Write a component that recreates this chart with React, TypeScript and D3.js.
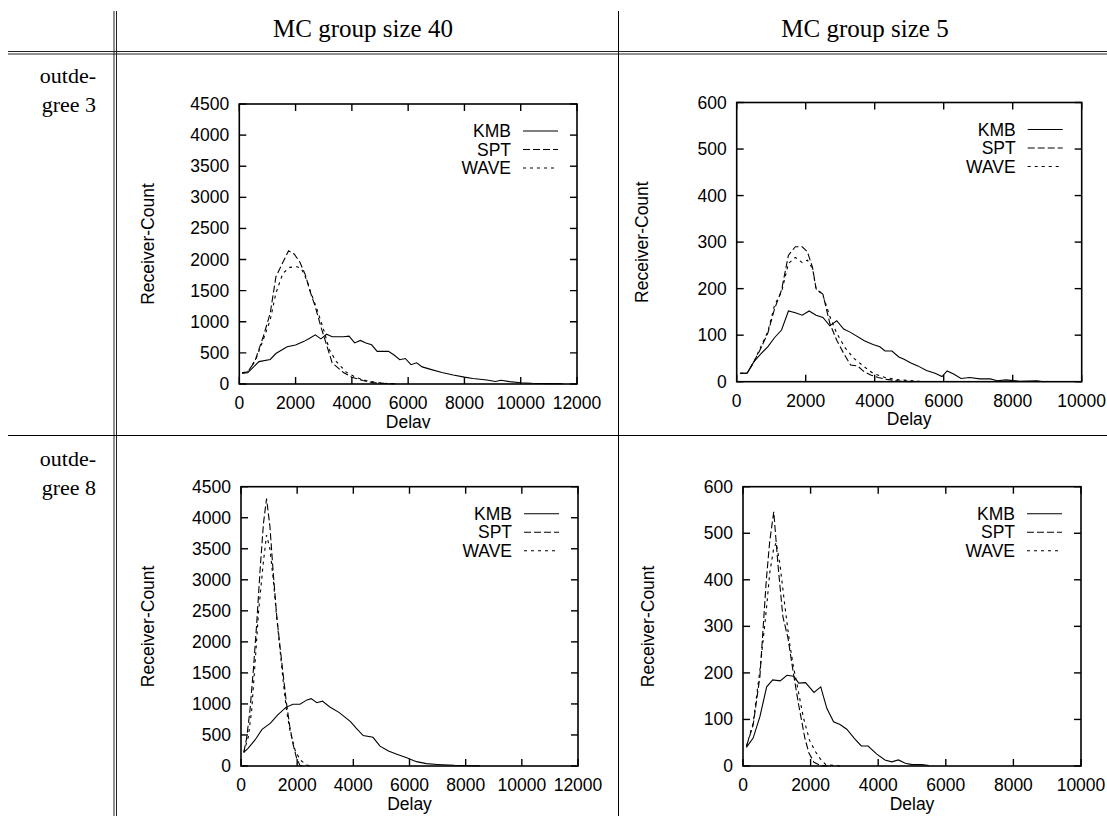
import React from 'react';
import * as d3 from 'd3';

type Pt = [number, number];

const columnHeaders = ['MC group size 40', 'MC group size 5'];
const rowLabels = [['outde-', 'gree 3'], ['outde-', 'gree 8']];
const seriesNames = ['KMB', 'SPT', 'WAVE'];
const xTicksG40 = [0, 2000, 4000, 6000, 8000, 10000, 12000];
const yTicksG40 = [0, 500, 1000, 1500, 2000, 2500, 3000, 3500, 4000, 4500];
const xTicksG5 = [0, 2000, 4000, 6000, 8000, 10000];
const yTicksG5 = [0, 100, 200, 300, 400, 500, 600];
const xLabel = 'Delay';
const yLabel = 'Receiver-Count';

// group size 40, outdegree 3
const kmbG40D3: Pt[] = [[100,175],[300,180],[700,360],[1100,395],[1300,490],[1700,600],[2000,627],[2300,685],[2500,735],[2700,790],[2900,725],[3100,800],[3300,760],[3700,760],[3900,770],[4100,660],[4300,700],[4500,660],[4700,630],[4900,525],[5300,525],[5500,465],[5700,390],[5900,410],[6100,310],[6300,340],[6500,275],[6800,235],[7200,185],[7600,145],[8000,110],[8300,88],[8800,64],[9100,40],[9300,60],[9600,38],[10000,20],[10400,11],[11000,6],[11500,4]];
const sptG40D3: Pt[] = [[100,175],[300,195],[550,360],[850,760],[1100,1140],[1300,1720],[1500,1910],[1750,2140],[1950,2090],[2150,1960],[2350,1750],[2500,1510],[2700,1240],[2900,920],[3100,630],[3300,340],[3700,185],[4000,110],[4400,55],[4750,22],[5150,10],[5500,4]];
const waveG40D3: Pt[] = [[100,175],[350,225],[600,410],[850,710],[1100,1030],[1300,1460],[1550,1780],[1800,1875],[2050,1885],[2200,1860],[2400,1670],[2550,1460],[2750,1215],[3000,870],[3200,550],[3450,360],[3800,190],[4150,105],[4500,55],[4900,22],[5250,8],[5600,3]];

// group size 5, outdegree 3
const kmbG5D3: Pt[] = [[100,18],[300,18],[500,43],[700,60],[900,75],[1100,95],[1300,111],[1500,152],[1700,148],[1900,143],[2100,152],[2300,143],[2500,138],[2700,120],[2900,131],[3100,113],[3300,106],[3700,88],[3950,80],[4150,75],[4300,66],[4500,66],[4700,53],[4850,48],[5050,40],[5250,34],[5500,24],[5750,18],[5950,11],[6100,23],[6300,16],[6500,7],[6750,9],[7050,6],[7350,6],[7550,2],[7800,4],[8200,1],[8700,2],[8900,0]];
const sptG5D3: Pt[] = [[100,18],[300,18],[500,43],[700,72],[900,104],[1100,157],[1300,197],[1500,272],[1700,290],[1900,290],[2050,279],[2200,245],[2300,200],[2500,188],[2700,125],[2900,89],[3100,61],[3300,36],[3500,34],[3700,21],[3900,14],[4100,9],[4350,5],[4750,1],[5200,0]];
const waveG5D3: Pt[] = [[100,18],[300,18],[500,43],[700,75],[900,107],[1100,165],[1300,193],[1500,254],[1700,267],[1900,256],[2050,261],[2200,243],[2300,200],[2500,186],[2700,140],[2900,104],[3150,72],[3400,50],[3700,32],[3950,18],[4300,9],[4700,4],[5100,2],[5300,1]];

// group size 40, outdegree 8
const kmbG40D8: Pt[] = [[100,220],[250,285],[500,420],[750,590],[1050,690],[1300,820],[1600,945],[1850,995],[2100,995],[2350,1065],[2500,1085],[2700,1020],[2900,1045],[3150,955],[3500,860],[3900,715],[4100,610],[4350,490],[4700,462],[4950,320],[5250,242],[5550,188],[5900,134],[6250,70],[6600,38],[7000,25],[7600,11],[8200,5],[8500,2]];
const sptG40D8: Pt[] = [[100,220],[200,450],[320,900],[440,1550],[560,2300],[680,3160],[800,3910],[910,4310],[1030,3860],[1150,3100],[1270,2430],[1390,1920],[1510,1440],[1620,1010],[1740,630],[1860,340],[1980,125],[2100,10],[2200,0]];
const waveG40D8: Pt[] = [[100,220],[260,470],[380,900],[500,1650],[620,2460],[790,3260],[910,3720],[1030,3500],[1150,3000],[1270,2400],[1390,1870],[1510,1330],[1620,900],[1740,580],[1920,260],[2100,100],[2340,16],[2500,0]];

// group size 5, outdegree 8
const kmbG5D8: Pt[] = [[100,40],[300,60],[500,106],[700,170],[880,185],[1100,183],[1300,195],[1500,193],[1650,178],[1850,179],[2100,158],[2300,170],[2480,124],[2680,95],[2870,89],[3070,79],[3300,59],[3500,43],[3700,43],[3950,26],[4200,13],[4400,9],[4600,13],[4800,6],[5000,3],[5300,3],[5500,1]];
const sptG5D8: Pt[] = [[100,42],[300,88],[500,192],[690,400],[790,482],[910,546],[1040,428],[1180,321],[1330,275],[1500,195],[1650,130],[1830,60],[1950,28],[2100,8],[2300,1],[2500,0]];
const waveG5D8: Pt[] = [[100,42],[300,92],[500,206],[690,335],[790,414],[900,464],[980,480],[1090,435],[1230,349],[1380,263],[1500,210],[1600,175],[1780,106],[1970,55],[2150,30],[2300,14],[2450,3],[2700,1],[2900,0]];

const dashes = [undefined, '7,3', '3,4'];
const SANS = 'Liberation Sans, Arial, Helvetica, sans-serif';
const SERIF = 'Liberation Serif, Times New Roman, serif';

type PanelProps = {
  id: string;
  left: number; right: number; top: number; bottom: number;
  xMax: number; yMax: number;
  xTicks: number[]; yTicks: number[];
  series: Pt[][];
  yLabelX: number;
  clipY?: number;
};

function Panel(p: PanelProps) {
  const x = d3.scaleLinear().domain([0, p.xMax]).range([p.left, p.right]);
  const y = d3.scaleLinear().domain([0, p.yMax]).range([p.bottom, p.top]);
  const line = d3.line<Pt>().x(d => x(d[0])).y(d => y(d[1]));
  const tl = 7;
  const fs = 17.5;
  const legendRight = p.right - 66;
  return (
    <g clipPath={p.clipY ? `url(#clip-${p.id})` : undefined}>
      {p.clipY ? (
        <defs>
          <clipPath id={`clip-${p.id}`}>
            <rect x={0} y={0} width={1107} height={p.clipY} />
          </clipPath>
        </defs>
      ) : null}
      {p.series.map((s, i) => (
        <path key={i} d={line(s) || ''} fill="none" stroke="#000" strokeWidth={1.1}
          strokeDasharray={dashes[i]} />
      ))}
      <rect x={p.left} y={p.top} width={p.right - p.left} height={p.bottom - p.top}
        fill="none" stroke="#000" strokeWidth={1.6} />
      {p.yTicks.map(t => (
        <g key={'y' + t}>
          <line x1={p.left} x2={p.left + tl} y1={y(t)} y2={y(t)} stroke="#000" strokeWidth={1.4} />
          <line x1={p.right} x2={p.right - tl} y1={y(t)} y2={y(t)} stroke="#000" strokeWidth={1.4} />
          <text x={p.left - 10} y={y(t) + 6} textAnchor="end" fontSize={fs} fontFamily={SANS}>{t}</text>
        </g>
      ))}
      {p.xTicks.map(t => (
        <g key={'x' + t}>
          <line x1={x(t)} x2={x(t)} y1={p.bottom} y2={p.bottom - tl} stroke="#000" strokeWidth={1.4} />
          <line x1={x(t)} x2={x(t)} y1={p.top} y2={p.top + tl} stroke="#000" strokeWidth={1.4} />
          <text x={x(t)} y={p.bottom + 25} textAnchor="middle" fontSize={fs} fontFamily={SANS}>{t}</text>
        </g>
      ))}
      <text x={(p.left + p.right) / 2} y={p.bottom + 43.5} textAnchor="middle" fontSize={fs} fontFamily={SANS}>{xLabel}</text>
      <text transform={`translate(${p.yLabelX},${(p.top + p.bottom) / 2}) rotate(-90)`} textAnchor="middle"
        dominantBaseline="central" fontSize={fs} fontFamily={SANS}>{yLabel}</text>
      {seriesNames.map((n, i) => {
        const cy = p.top + 27 + 18.5 * i;
        return (
          <g key={n}>
            <text x={legendRight} y={cy + 6} textAnchor="end" fontSize={fs} fontFamily={SANS}>{n}</text>
            <line x1={p.right - 54} x2={p.right - 19} y1={cy} y2={cy} stroke="#000" strokeWidth={1.1}
              strokeDasharray={dashes[i]} />
          </g>
        );
      })}
    </g>
  );
}

export default function App() {
  const W = 1107, H = 816;
  const colCenters = [363, 865];
  const rowLines = [52.5, 435.5];
  return (
    <svg width={W} height={H} style={{ position: 'absolute', left: 0, top: 0, background: '#fff' }}>
      <rect x={0} y={0} width={W} height={H} fill="#fff" />
      {/* table rules */}
      <line x1={114} x2={114} y1={11} y2={H} stroke="#222" strokeWidth={1} />
      <line x1={116.5} x2={116.5} y1={11} y2={H} stroke="#222" strokeWidth={1} />
      <line x1={618.5} x2={618.5} y1={11} y2={H} stroke="#000" strokeWidth={1} />
      <line x1={8} x2={W} y1={51.5} y2={51.5} stroke="#222" strokeWidth={1} />
      <line x1={8} x2={W} y1={54} y2={54} stroke="#222" strokeWidth={1} />
      <line x1={8} x2={W} y1={435.5} y2={435.5} stroke="#000" strokeWidth={1} />
      {columnHeaders.map((h, i) => (
        <text key={h} x={colCenters[i]} y={37} textAnchor="middle" fontSize={25} fontFamily={SERIF}>{h}</text>
      ))}
      {rowLabels.map((r, i) => (
        <g key={i}>
          <text x={96} y={rowLines[i] + 30} textAnchor="end" fontSize={22} fontFamily={SERIF}>{r[0]}</text>
          <text x={96} y={rowLines[i] + 59.5} textAnchor="end" fontSize={22} fontFamily={SERIF}>{r[1]}</text>
        </g>
      ))}
      <Panel id="p1" left={239.3} right={577} top={104} bottom={384} xMax={12000} yMax={4500}
        xTicks={xTicksG40} yTicks={yTicksG40} series={[kmbG40D3, sptG40D3, waveG40D3]} yLabelX={148} clipY={428.5} />
      <Panel id="p2" left={736.7} right={1081.7} top={102.5} bottom={381.7} xMax={10000} yMax={600}
        xTicks={xTicksG5} yTicks={yTicksG5} series={[kmbG5D3, sptG5D3, waveG5D3]} yLabelX={642} />
      <Panel id="p3" left={241} right={578} top={486.7} bottom={766} xMax={12000} yMax={4500}
        xTicks={xTicksG40} yTicks={yTicksG40} series={[kmbG40D8, sptG40D8, waveG40D8]} yLabelX={148} />
      <Panel id="p4" left={743} right={1081} top={486.7} bottom={766} xMax={10000} yMax={600}
        xTicks={xTicksG5} yTicks={yTicksG5} series={[kmbG5D8, sptG5D8, waveG5D8]} yLabelX={648} />
    </svg>
  );
}
